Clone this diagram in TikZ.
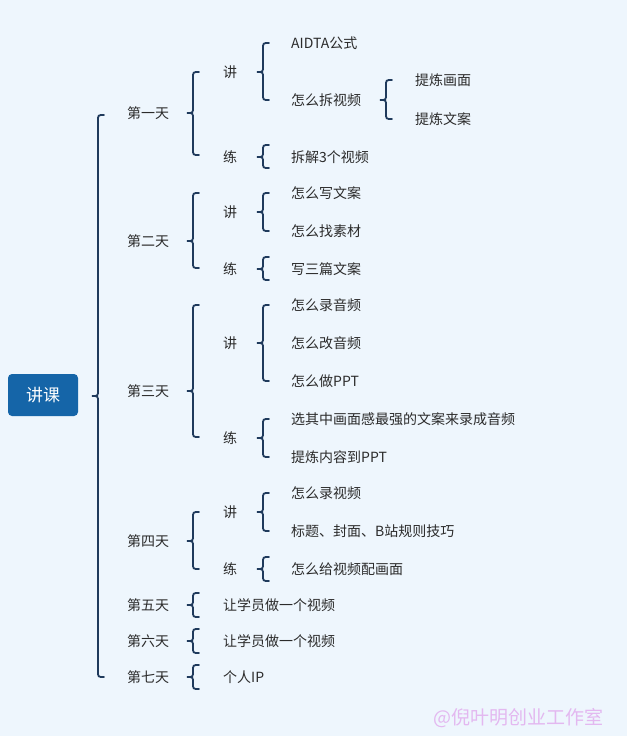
\documentclass[tikz,border=0pt]{standalone}
\usepackage{fontspec}
\setmainfont{Noto Sans CJK SC}
\definecolor{bg}{HTML}{EEF6FD}
\definecolor{navy}{HTML}{1F3A5C}
\definecolor{rootc}{HTML}{1565A8}
\definecolor{txt}{HTML}{2B2B2B}
\definecolor{wm}{HTML}{E3B8F0}
\newcommand{\mybrace}[4]{% x top bot mid
 \draw[bracestyle] (#1+12,#2) .. controls (#1+6,#2) .. (#1+6,#2+6) -- (#1+6,#4-6) .. controls (#1+6,#4) .. (#1,#4) .. controls (#1+6,#4) .. (#1+6,#4+6) -- (#1+6,#3-6) .. controls (#1+6,#3) .. (#1+12,#3);}
\begin{document}
\begin{tikzpicture}[x=1pt,y=-1pt,
 bracestyle/.style={draw=navy,line width=1.8pt,line cap=round},
 lbl/.style={anchor=west,text=txt,font=\fontsize{14}{16}\selectfont,inner sep=0pt}]
\fill[bg] (0,0) rectangle (627,736);
\useasboundingbox (0,0) rectangle (627,736);
\node[fill=rootc,rounded corners=4pt,minimum width=70pt,minimum height=42pt,text=white,font=\fontsize{17}{19}\selectfont] (root) at (43,395) {讲课};
\mybrace{92}{115}{677}{396}
% day 1
\node[lbl] (d1) at (127,113) {第一天};
\mybrace{187}{72}{155}{113}
\node[lbl] (d1j) at (223,72) {讲};
\mybrace{257}{43}{100}{72}
\node[lbl] (a1) at (291,43) {AIDTA公式};
\node[lbl] (a2) at (291,100) {怎么拆视频};
\mybrace{380}{80}{119}{100}
\node[lbl] (a3) at (415,80) {提炼画面};
\node[lbl] (a4) at (415,119) {提炼文案};
\node[lbl] (d1l) at (223,157) {练};
\mybrace{257}{145}{168}{157}
\node[lbl] (a5) at (291,157) {拆解3个视频};
% day 2
\node[lbl] (d2) at (127,241) {第二天};
\mybrace{187}{193}{268}{241}
\node[lbl] (d2j) at (223,212) {讲};
\mybrace{257}{193}{231}{212}
\node[lbl] (b1) at (291,193) {怎么写文案};
\node[lbl] (b2) at (291,231) {怎么找素材};
\node[lbl] (d2l) at (223,269) {练};
\mybrace{257}{257}{280}{269}
\node[lbl] (b3) at (291,269) {写三篇文案};
% day 3
\node[lbl] (d3) at (127,391) {第三天};
\mybrace{187}{305}{437}{391}
\node[lbl] (d3j) at (223,343) {讲};
\mybrace{257}{305}{381}{343}
\node[lbl] (c1) at (291,305) {怎么录音频};
\node[lbl] (c2) at (291,343) {怎么改音频};
\node[lbl] (c3) at (291,381) {怎么做PPT};
\node[lbl] (d3l) at (223,438) {练};
\mybrace{257}{419}{457}{438}
\node[lbl] (c4) at (291,419) {选其中画面感最强的文案来录成音频};
\node[lbl] (c5) at (291,457) {提炼内容到PPT};
% day 4
\node[lbl] (d4) at (127,541) {第四天};
\mybrace{187}{512}{569}{541}
\node[lbl] (d4j) at (223,512) {讲};
\mybrace{257}{493}{531}{512}
\node[lbl] (e1) at (291,493) {怎么录视频};
\node[lbl] (e2) at (291,531) {标题、封面、B站规则技巧};
\node[lbl] (d4l) at (223,569) {练};
\mybrace{257}{557}{581}{569}
\node[lbl] (e3) at (291,569) {怎么给视频配画面};
% days 5-7
\node[lbl] (d5) at (127,605) {第五天};
\mybrace{187}{593}{617}{605}
\node[lbl] (f1) at (223,605) {让学员做一个视频};
\node[lbl] (d6) at (127,641) {第六天};
\mybrace{187}{629}{653}{641}
\node[lbl] (f2) at (223,641) {让学员做一个视频};
\node[lbl] (d7) at (127,677) {第七天};
\mybrace{187}{665}{689}{677}
\node[lbl] (f3) at (223,677) {个人IP};
\node[lbl,text=wm,font=\fontsize{19}{21}\selectfont] (wm) at (433,718) {@倪叶明创业工作室};
\end{tikzpicture}
\end{document}
